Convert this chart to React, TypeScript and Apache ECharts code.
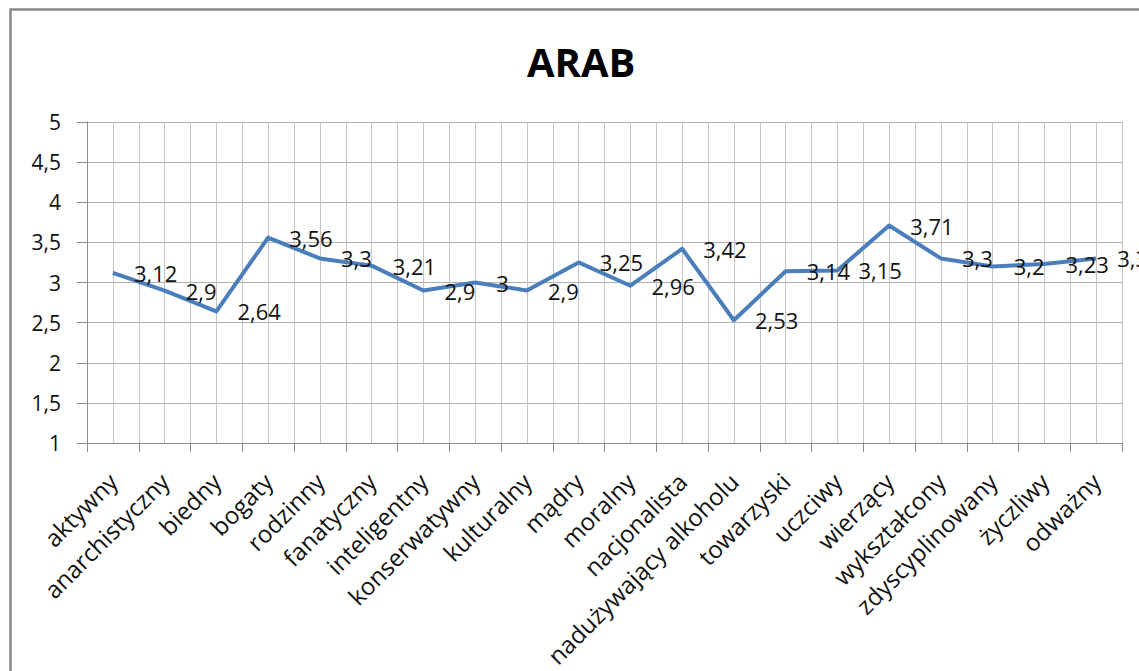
import React, { useEffect, useRef } from "react";
import * as echarts from "echarts";

const titleText = "ARAB";
const categories = [
  "aktywny",
  "anarchistyczny",
  "biedny",
  "bogaty",
  "rodzinny",
  "fanatyczny",
  "inteligentny",
  "konserwatywny",
  "kulturalny",
  "mądry",
  "moralny",
  "nacjonalista",
  "nadużywający alkoholu",
  "towarzyski",
  "uczciwy",
  "wierzący",
  "wykształcony",
  "zdyscyplinowany",
  "życzliwy",
  "odważny",
];
const values = [
  3.12, 2.9, 2.64, 3.56, 3.3, 3.21, 2.9, 3, 2.9, 3.25, 2.96, 3.42, 2.53, 3.14,
  3.15, 3.71, 3.3, 3.2, 3.23, 3.3,
];
const yMin = 1;
const yMax = 5;
const yStep = 0.5;

const FONT = "'Open Sans', 'Noto Sans', sans-serif";
const comma = (v: number) => String(v).replace(".", ",");

export default function App() {
  const ref = useRef<HTMLDivElement>(null);
  useEffect(() => {
    if (!ref.current) return;
    const chart = echarts.init(ref.current, undefined, { renderer: "svg" });
    const halfSteps = categories.length * 2;
    chart.setOption({
      animation: false,
      backgroundColor: "#ffffff",
      textStyle: { fontFamily: FONT },
      title: {
        text: titleText,
        left: 522,
        top: 36,
        textStyle: {
          fontFamily: FONT,
          fontSize: 40,
          fontWeight: "bold",
          color: "#000",
        },
      },
      graphic: [
        {
          type: "rect",
          silent: true,
          z: -10,
          shape: { x: 10.5, y: 9.5, width: 1300, height: 800 },
          style: { fill: "none", stroke: "#888888", lineWidth: 2.5 },
        },
      ],
      grid: { left: 87, right: 17, top: 122, bottom: 228, containLabel: false },
      xAxis: [
        {
          type: "category",
          data: categories,
          boundaryGap: true,
          axisLine: { show: true, lineStyle: { color: "#8c8c8c", width: 1 } },
          axisTick: {
            show: true,
            alignWithLabel: false,
            length: 9,
            lineStyle: { color: "#8c8c8c" },
          },
          splitLine: { show: false },
          axisLabel: {
            interval: 0,
            rotate: 45,
            margin: 34,
            fontFamily: FONT,
            fontSize: 24,
            color: "#111",
          },
        },
        {
          type: "value",
          min: 0,
          max: halfSteps,
          interval: 1,
          position: "bottom",
          axisLine: { show: false },
          axisTick: { show: false },
          axisLabel: { show: false },
          splitLine: { show: true, lineStyle: { color: "#c4c4c4", width: 1 } },
        },
      ],
      yAxis: {
        type: "value",
        min: yMin,
        max: yMax,
        interval: yStep,
        axisLine: { show: true, lineStyle: { color: "#8c8c8c" } },
        axisTick: { show: true, length: 10, lineStyle: { color: "#8c8c8c" } },
        axisLabel: {
          margin: 26,
          fontFamily: FONT,
          fontSize: 21,
          color: "#111",
          formatter: (v: number) => comma(v),
        },
        splitLine: { show: true, lineStyle: { color: "#b0b0b0", width: 1 } },
      },
      series: [
        {
          type: "line",
          xAxisIndex: 0,
          data: values,
          symbol: "circle",
          symbolSize: 0.1,
          showSymbol: true,
          lineStyle: { color: "#4a7ebb", width: 4, join: "round" },
          itemStyle: { color: "#4a7ebb" },
          labelLayout: { hideOverlap: false },
          label: {
            show: true,
            position: "right",
            distance: 21,
            fontFamily: FONT,
            fontSize: 22,
            color: "#111",
            formatter: (p: any) => comma(p.value),
          },
          z: 5,
        },
      ],
    });
    return () => chart.dispose();
  }, []);
  return (
    <div
      ref={ref}
      style={{ position: "absolute", left: 0, top: 0, width: 1139, height: 671 }}
    />
  );
}
